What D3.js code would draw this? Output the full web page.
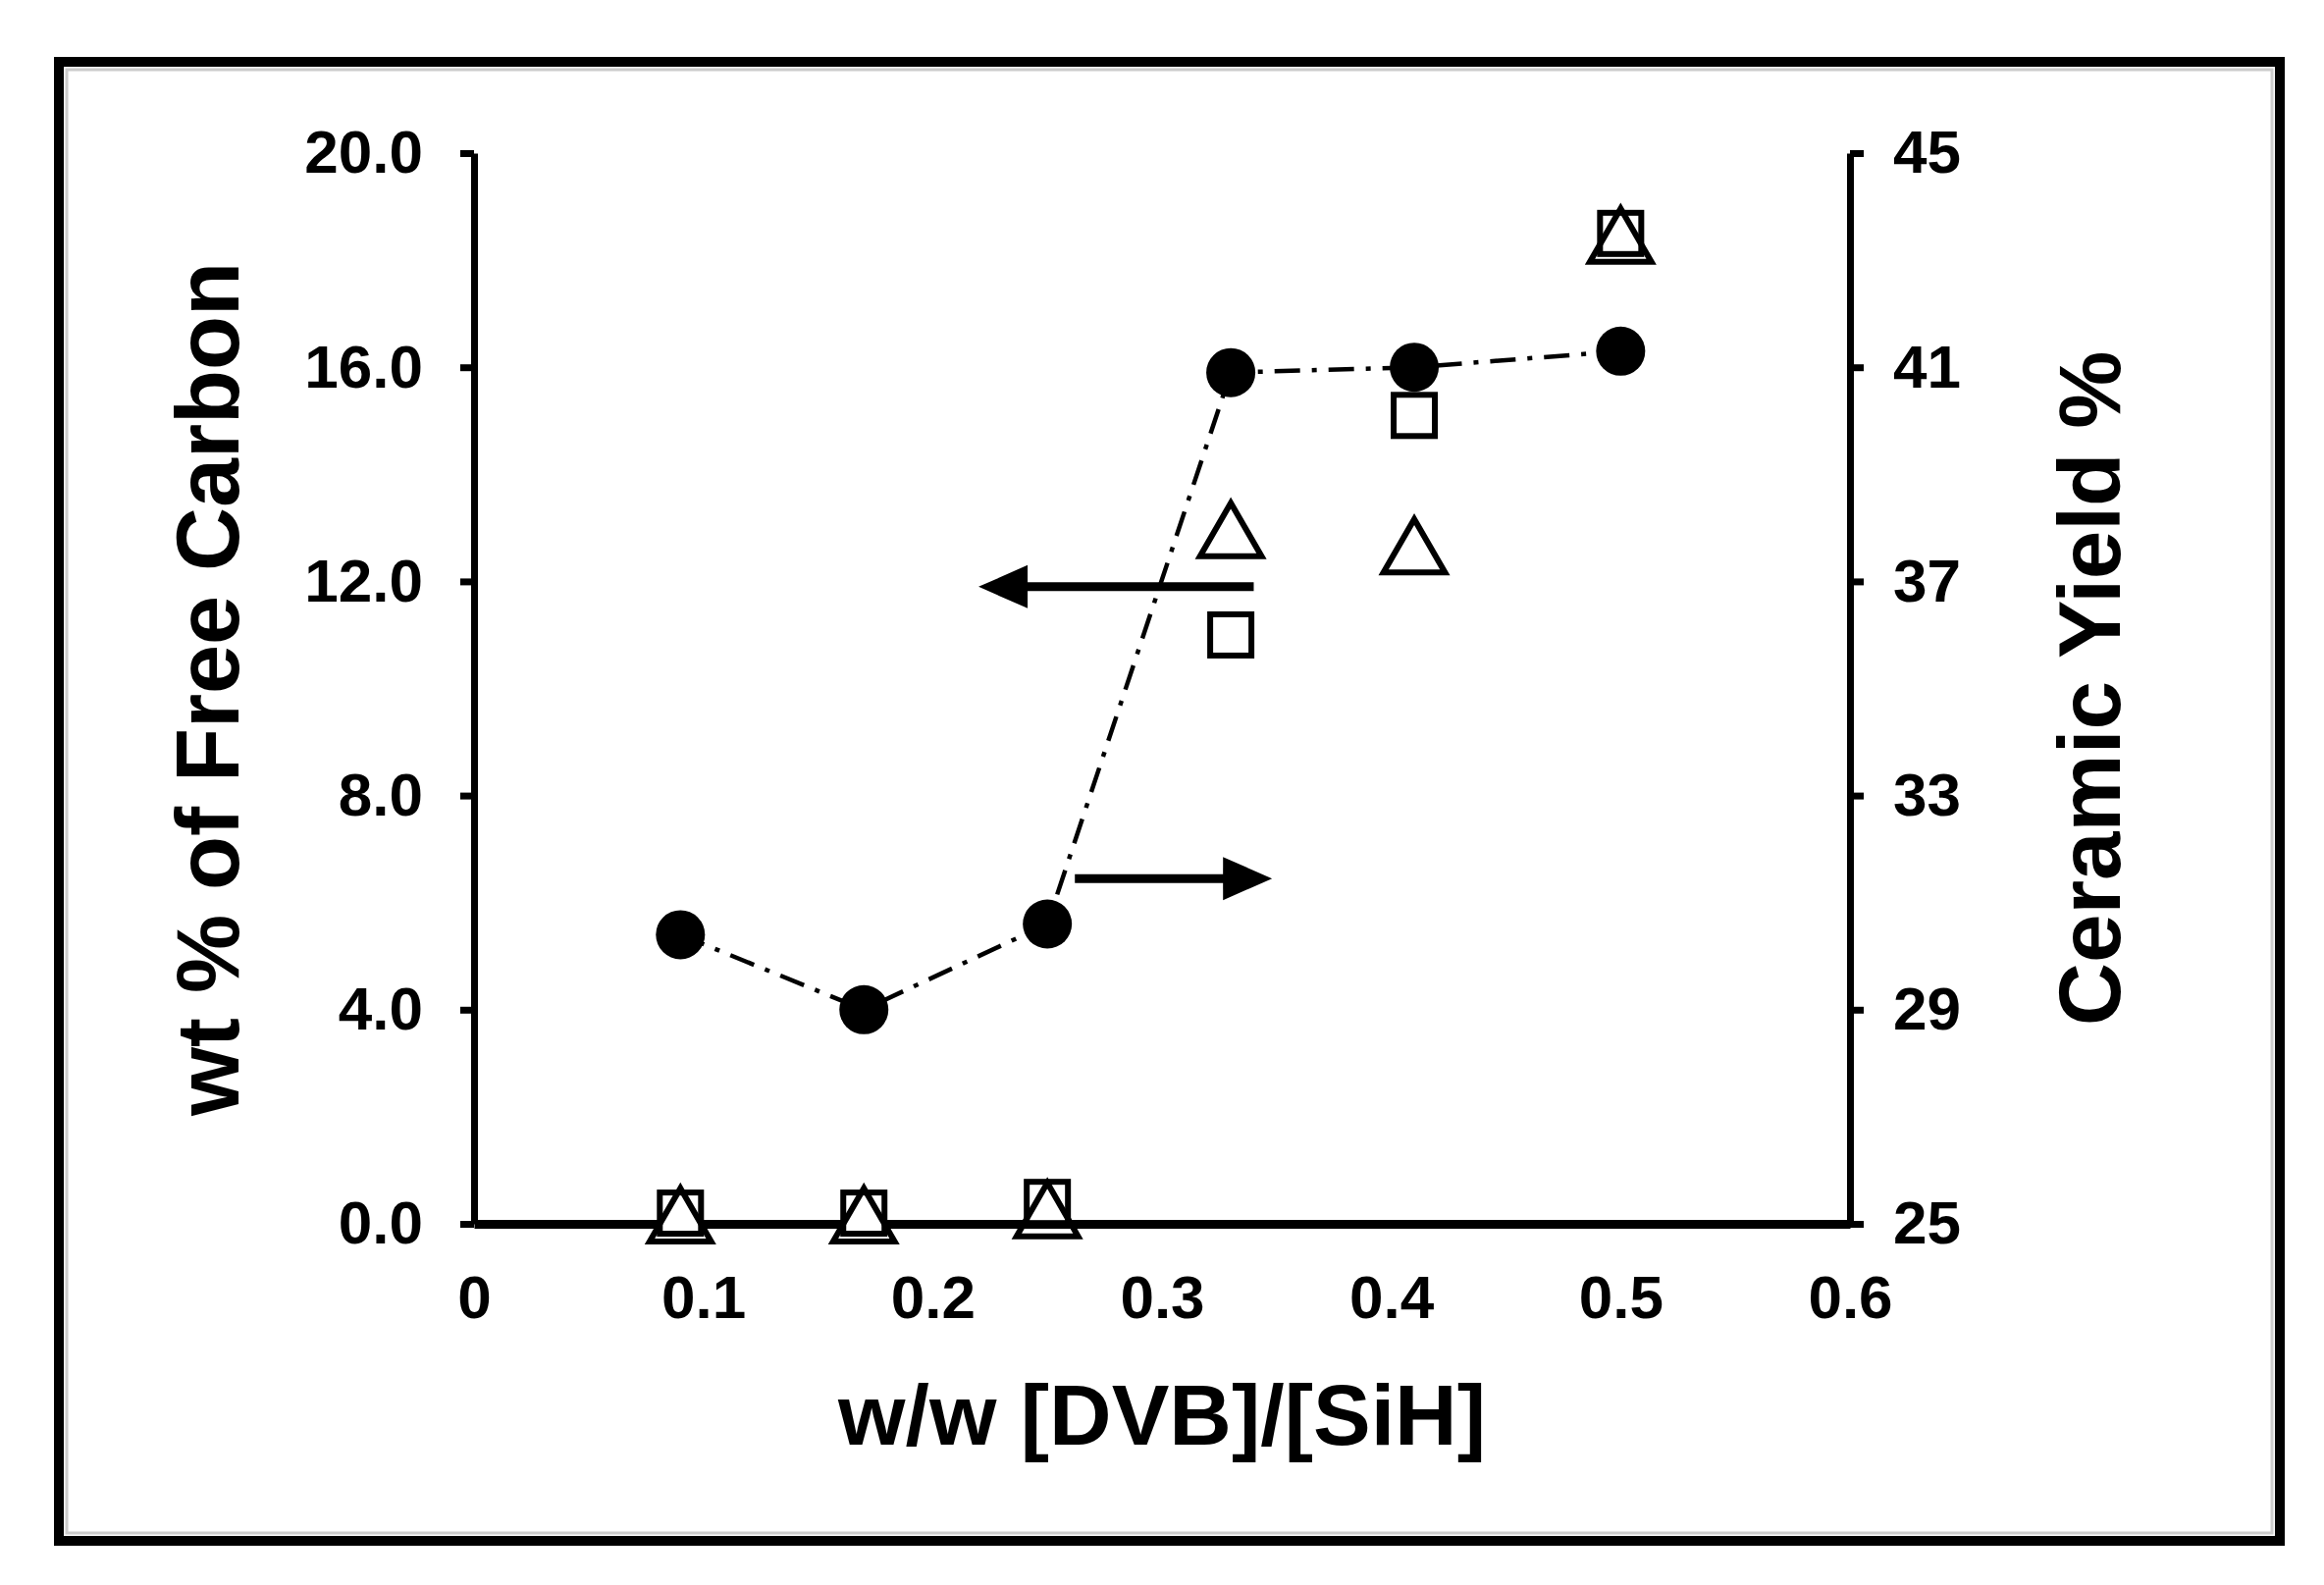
<!DOCTYPE html>
<html><head><meta charset="utf-8">
<script src="https://cdn.jsdelivr.net/npm/d3@7"></script>
<style>body{margin:0;background:#fff}svg{display:block}text{font-family:"Liberation Sans",Arial,sans-serif;font-weight:bold}</style>
</head><body>
<script>
var ratio = [0.09, 0.17, 0.25, 0.33, 0.41, 0.5]
var ceramicYield = [30.4, 29.0, 30.6, 40.9, 41.0, 41.3]
var freeCarbonSq = [0.2, 0.2, 0.4, 11.0, 15.1, 18.5]
var freeCarbonTri = [0.0, 0.0, 0.1, 12.8, 12.5, 18.3]
var xTicks = [0, 0.1, 0.2, 0.3, 0.4, 0.5, 0.6]
var leftTicks = [0, 4, 8, 12, 16, 20]
var rightTicks = [25, 29, 33, 37, 41, 45]

var W = 2368, H = 1615
var svg = d3.select('body').append('svg').attr('width', W).attr('height', H)

svg.append('rect').attr('x', 60).attr('y', 63).attr('width', 2263).attr('height', 1507)
	.style('fill', '#fff').style('stroke', '#000').style('stroke-width', 10)
svg.append('rect').attr('x', 68).attr('y', 71).attr('width', 2247).attr('height', 1491)
	.style('fill', 'none').style('stroke', '#ccc').style('stroke-width', 3)

var x = d3.scaleLinear().domain([0, 0.6]).range([483, 1885])
var yL = d3.scaleLinear().domain([0, 20]).range([1247, 156])
var yR = d3.scaleLinear().domain([25, 45]).range([1247, 156])

function styleAxis(g){
	g.select('.domain').style('stroke', '#000').style('stroke-width', 7)
	g.selectAll('.tick line').style('stroke', '#000').style('stroke-width', 7)
	g.selectAll('text').style('font-size', '62px').style('fill', '#000')
}
svg.append('g').attr('transform', 'translate(0,1247)')
	.call(d3.axisBottom(x).tickValues(xTicks).tickSize(0).tickPadding(52).tickFormat(function(d){ return d === 0 ? '0' : d3.format('.1f')(d) }))
	.call(styleAxis)
svg.append('g').attr('transform', 'translate(483,0)')
	.call(d3.axisLeft(yL).tickValues(leftTicks).tickSize(14).tickSizeOuter(0).tickPadding(38).tickFormat(d3.format('.1f')))
	.call(styleAxis)
svg.append('g').attr('transform', 'translate(1885,0)')
	.call(d3.axisRight(yR).tickValues(rightTicks).tickSize(14).tickSizeOuter(0).tickPadding(30))
	.call(styleAxis)
svg.select('g').select('.domain').style('stroke-width', 9)

svg.append('text').attr('x', (483 + 1885) / 2).attr('y', 1472).attr('text-anchor', 'middle')
	.style('font-size', '88px').text('w/w [DVB]/[SiH]')
svg.append('text').attr('transform', 'translate(243,' + (1 + 156 + 1247) / 2 + ') rotate(-90)').attr('text-anchor', 'middle')
	.style('font-size', '90px').text('wt % of Free Carbon')
svg.append('text').attr('transform', 'translate(2160,' + (156 + 1247) / 2 + ') rotate(-90)').attr('text-anchor', 'middle')
	.style('font-size', '89px').text('Ceramic Yield %')

// dash-dot line through ceramic yield
var line = d3.line().x(function(d, i){ return x(ratio[i]) }).y(function(d){ return yR(d) })
svg.append('path').datum(ceramicYield).attr('d', line)
	.style('fill', 'none').style('stroke', '#000').style('stroke-width', 4.5).style('stroke-dasharray', '26,12,5,12')

// squares
svg.selectAll('.sq').data(freeCarbonSq).enter().append('rect')
	.attr('x', function(d, i){ return x(ratio[i]) - 21 }).attr('y', function(d){ return yL(d) - 21 })
	.attr('width', 42).attr('height', 42)
	.style('fill', '#fff').style('stroke', '#000').style('stroke-width', 6)
// triangles
var tri = d3.symbol().type(d3.symbolTriangle).size(1700)
svg.selectAll('.tri').data(freeCarbonTri).enter().append('path')
	.attr('d', tri).attr('transform', function(d, i){ return 'translate(' + x(ratio[i]) + ',' + yL(d) + ')' })
	.style('fill', 'none').style('stroke', '#000').style('stroke-width', 6)
// circles
svg.selectAll('.cy').data(ceramicYield).enter().append('circle')
	.attr('cx', function(d, i){ return x(ratio[i]) }).attr('cy', function(d){ return yR(d) })
	.attr('r', 25).style('fill', '#000')

// arrows
function arrow(x1, x2, yv){
	var dir = x2 > x1 ? 1 : -1
	var X1 = x(x1), X2 = x(x2), Y = yL(yv)
	svg.append('line').attr('x1', X1).attr('x2', X2 - dir * 30).attr('y1', Y).attr('y2', Y)
		.style('stroke', '#000').style('stroke-width', 9)
	svg.append('path').attr('d', 'M' + X2 + ',' + Y + 'L' + (X2 - dir * 50) + ',' + (Y - 22) + 'L' + (X2 - dir * 50) + ',' + (Y + 22) + 'Z')
		.style('fill', '#000')
}
arrow(0.34, 0.22, 11.9)
arrow(0.262, 0.348, 6.45)
</script>
</body></html>
